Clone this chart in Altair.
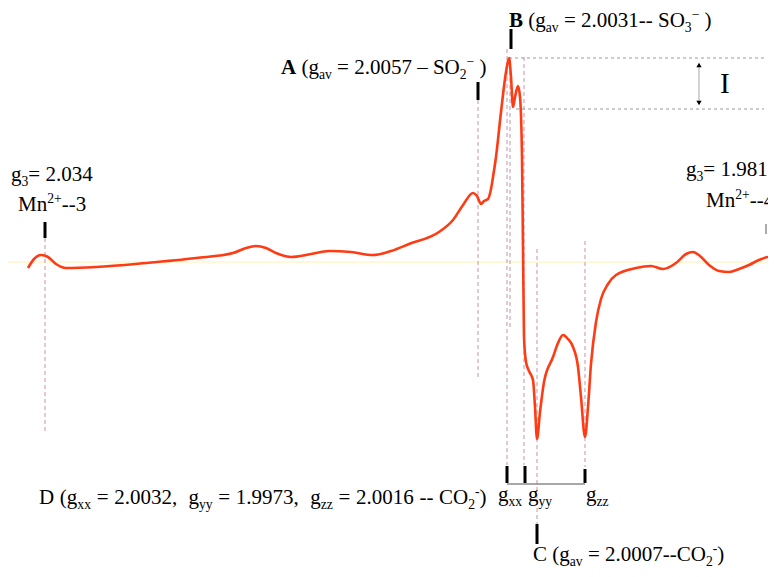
import altair as alt
import pandas as pd

# ---------------- data (in its pixel units) ----------------
field_pos = [32, 38, 45, 52, 60, 70, 100, 150, 200, 237, 250, 260, 270, 280, 295, 315, 333, 355,
             377, 395, 413, 443, 457, 467, 477, 481, 485, 488, 492, 495, 497, 500, 505, 510, 513,
             515, 517, 519, 522, 524, 526, 527, 528, 530, 533, 537, 539, 541, 544, 548, 557, 562,
             567, 572, 577, 582, 585, 589, 592, 595, 600, 605, 612, 620, 640, 655, 667, 680, 690,
             697, 704, 713, 723, 733, 743, 753, 763, 773, 776]
signal_pos = [271, 262, 258, 260, 267, 271, 270, 266, 261, 256, 251, 249, 251, 256, 260, 257, 254, 255,
              258, 254, 247, 235, 223, 208, 196, 199, 207, 204, 202, 192, 180, 160, 115, 75, 61,
              80, 110, 100, 89, 100, 160, 250, 340, 365, 374, 383, 410, 442, 415, 385, 360, 346,
              338, 342, 350, 370, 400, 440, 410, 367, 325, 302, 287, 278, 271, 269, 272, 266, 257,
              255, 259, 268, 274, 275, 272, 268, 263, 260, 260]

baseline_level = 265

# guide lines: (x, y_top, y_bottom)
dashed_markers = [(49, 241, 437), (482, 103, 380), (511, 52, 468), (514, 60, 330),
                  (528, 60, 468), (541, 252, 528), (589, 244, 470)]
black_ticks = [(49, 225, 241), (482, 85, 103), (515, 32, 52), (511, 469, 486),
               (529, 469, 486), (589, 472, 486), (541, 527, 547)]
gray_ticks = [(770, 227, 237)]
level_lines = [(513, 768, 61), (520, 768, 112)]      # x1, x2, y
bracket = [(511, 589, 487)]
arrow = [(703, 70, 104)]

FONT = "Liberation Serif"
W = {' ': .25, '(': .333, ')': .333, 'g': .5, 'a': .444, 'v': .5, 'x': .5, 'y': .5, 'z': .444,
     '=': .564, '.': .25, ',': .25, '-': .333, '–': .5, '−': .564, 'S': .556, 'O': .722, 'C': .667,
     'D': .722, 'M': .889, 'n': .5, '+': .564, 'A': .722, 'B': .667}


def rich(x0, yb, segs, size, space=0.25):
    rows = []
    x = x0
    for text, kind in segs:
        s = size * 0.65 if kind in ('sub', 'sup') else size
        y = yb + (0.22 * size if kind == 'sub' else (-0.36 * size if kind == 'sup' else 0))
        word = ''
        wx = x
        for ch in text + '\0':
            if ch in (' ', '\0'):
                if word:
                    rows.append(dict(x=wx, y=y, t=word, s=s, w='bold' if kind == 'b' else 'normal'))
                    word = ''
                if ch == ' ':
                    x += space * size
                wx = x
            else:
                if not word:
                    wx = x
                word += ch
                x += W.get(ch, .5) * s
    return rows


texts = []
texts += rich(15, 184, [("g", 'n'), ("3", 'sub'), ("= 2.034", 'n')], 21)
texts += rich(22, 214, [("Mn", 'n'), ("2+", 'sup'), ("--3", 'n')], 21)
texts += rich(690, 179, [("g", 'n'), ("3", 'sub'), ("= 1.981", 'n')], 21)
texts += rich(710, 210, [("Mn", 'n'), ("2+", 'sup'), ("--4", 'n')], 21)
texts += rich(285, 77, [("A", 'b'), (" (g", 'n'), ("av", 'sub'), (" = 2.0057 – SO", 'n'),
                        ("2", 'sub'), ("−", 'sup'), (" )", 'n')], 21)
texts += rich(513, 30, [("B", 'b'), (" (g", 'n'), ("av", 'sub'), (" = 2.0031-- SO", 'n'),
                        ("3", 'sub'), ("−", 'sup'), (" )", 'n')], 21)
texts += rich(43, 507, [("D (g", 'n'), ("xx", 'sub'), (" = 2.0032,  g", 'n'), ("yy", 'sub'),
                        (" = 1.9973,  g", 'n'), ("zz", 'sub'), (" = 2.0016 -- CO", 'n'),
                        ("2", 'sub'), ("-", 'sup'), (")", 'n')], 21, space=0.27)
texts += rich(537, 564, [("C (g", 'n'), ("av", 'sub'), (" = 2.0007--CO", 'n'),
                         ("2", 'sub'), ("-", 'sup'), (")", 'n')], 21)
texts += rich(502, 504, [("g", 'n'), ("xx", 'sub')], 21)
texts += rich(532, 504, [("g", 'n'), ("yy", 'sub')], 21)
texts += rich(590, 504, [("g", 'n'), ("zz", 'sub')], 21)
tdf = pd.DataFrame(texts)

# ---------------- chart ----------------
xs = alt.Scale(domain=[12, 772], nice=False, zero=False)
ys = alt.Scale(domain=[572, 11], nice=False, zero=False)

spec = pd.DataFrame({"field": field_pos, "signal": signal_pos})
curve = alt.Chart(spec).mark_line(color="#ff3b14", strokeWidth=2.6, interpolate="monotone").encode(
    x=alt.X("field:Q", scale=xs, axis=None), y=alt.Y("signal:Q", scale=ys, axis=None))

base_df = pd.DataFrame({"x": [12], "x2": [776], "y": [baseline_level]})
base = alt.Chart(base_df).mark_rule(color="#fff3b0", strokeWidth=1).encode(
    x=alt.X("x:Q", scale=xs, axis=None), x2="x2", y=alt.Y("y:Q", scale=ys, axis=None))


def vrules(lst, **kw):
    df = pd.DataFrame(lst, columns=["x", "y", "y2"])
    return alt.Chart(df).mark_rule(**kw).encode(
        x=alt.X("x:Q", scale=xs, axis=None), y=alt.Y("y:Q", scale=ys, axis=None), y2="y2")


def hrules(lst, **kw):
    df = pd.DataFrame(lst, columns=["x", "x2", "y"])
    return alt.Chart(df).mark_rule(**kw).encode(
        x=alt.X("x:Q", scale=xs, axis=None), x2="x2", y=alt.Y("y:Q", scale=ys, axis=None))


dashed = vrules(dashed_markers, color="#c493ab", strokeWidth=1, strokeDash=[4, 3])
ticks = vrules(black_ticks, color="#000000", strokeWidth=3)
gticks = vrules(gray_ticks, color="#aaaaaa", strokeWidth=2)
levels = hrules(level_lines, color="#9a9a9a", strokeWidth=1, strokeDash=[3, 3])
brk = hrules(bracket, color="#8a8a8a", strokeWidth=1.5)
shaft = vrules(arrow, color="#c4c4c4", strokeWidth=1.5)

heads_df = pd.DataFrame({"x": [703, 703], "y": [arrow[0][1] - 2, arrow[0][2] + 2],
                         "shape": ["triangle-up", "triangle-down"]})
heads = alt.Chart(heads_df).mark_point(filled=True, color="#000000", size=28, opacity=1).encode(
    x=alt.X("x:Q", scale=xs, axis=None), y=alt.Y("y:Q", scale=ys, axis=None),
    shape=alt.Shape("shape:N", scale=None, legend=None))

ilab = alt.Chart(pd.DataFrame({"x": [724], "y": [96], "t": ["I"]})).mark_text(
    font=FONT, fontSize=29, align="left", baseline="alphabetic", color="#000").encode(
    x=alt.X("x:Q", scale=xs, axis=None), y=alt.Y("y:Q", scale=ys, axis=None), text="t:N")


def txt_layer(weight):
    return alt.Chart(tdf[tdf.w == weight]).mark_text(
        font=FONT, align="left", baseline="alphabetic", color="#000", fontWeight=weight).encode(
        x=alt.X("x:Q", scale=xs, axis=None), y=alt.Y("y:Q", scale=ys, axis=None),
        text="t:N", size=alt.Size("s:Q", scale=None, legend=None))


chart = alt.layer(base, dashed, levels, brk, shaft, heads, curve, ticks, gticks, ilab,
                  txt_layer("normal"), txt_layer("bold")).properties(
    width=760, height=561, padding=0, autosize=alt.AutoSizeParams(type="none")
).configure_view(stroke=None)

chart.save("out.html", embed_options={"renderer": "svg", "actions": False})
